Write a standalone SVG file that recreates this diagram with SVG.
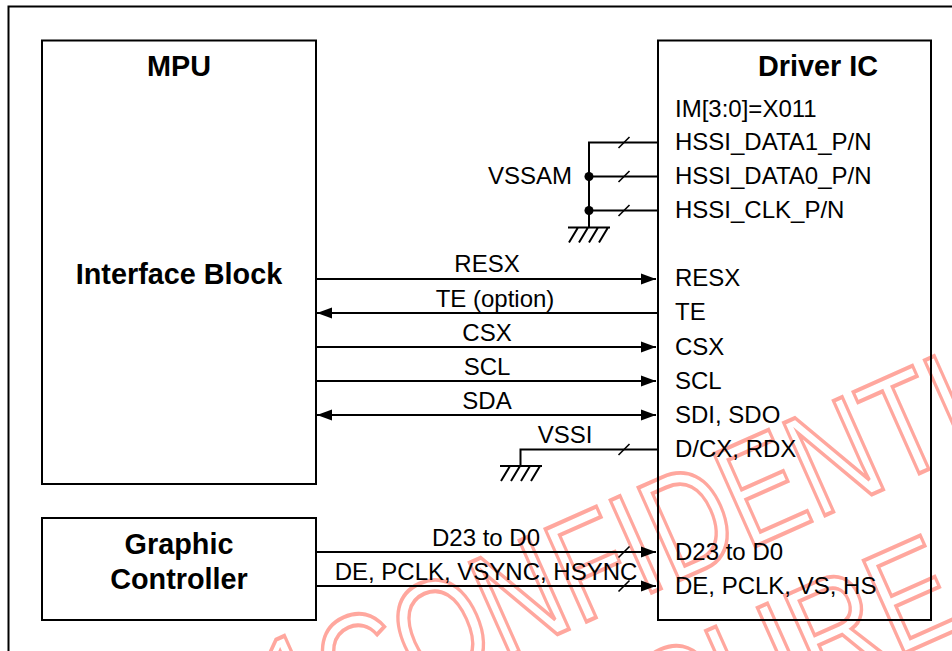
<svg xmlns="http://www.w3.org/2000/svg" width="952" height="651" viewBox="0 0 952 651">
<style>
text{font-family:"Liberation Sans",Arial,sans-serif;fill:#000}
.l{font-size:24px}
.m{font-size:24px;text-anchor:middle}
.b{font-size:28.8px;font-weight:bold;text-anchor:middle}
.box{fill:none;stroke:#000;stroke-width:2}
.w{stroke:#000;stroke-width:2;fill:none}
.t{stroke:#000;stroke-width:1.6;fill:none}
.wm{font-size:147px;fill:none;stroke:#ffa79e;stroke-width:3.6;vector-effect:non-scaling-stroke}
</style>
<defs>
<marker id="ah" markerUnits="userSpaceOnUse" markerWidth="16" markerHeight="12" refX="15" refY="6" orient="auto-start-reverse"><path d="M0 0.5L15 6L0 11.5z" fill="#000"/></marker>
<path id="gnd" d="M-21 0H21M-11 0L-20 15M-1 0L-10 15M9 0L0 15M19 0L10 15" fill="none" stroke="#000" stroke-width="2"/>
<path id="tick" d="M-5.500 5.500L5.500 -5.500" class="t"/>
</defs>
<rect width="952" height="651" fill="#fff"/>
<g id="watermark">
<text class="wm" transform="translate(290 744) rotate(-24) scale(.78 1)">1</text>
<text class="wm" transform="translate(345 729) rotate(-24) scale(.78 1)">CONFIDENTIAL</text>
<text class="wm" transform="translate(660 762) rotate(-24) scale(.81 1)">CURE</text>
</g>
<path id="frame" d="M8.500 651V6.500H952" fill="none" stroke="#000" stroke-width="2"/>
<g id="connectors">
<path class="w" d="M658 142.500H589V227M658 176.500H589M658 210.500H589"/>
<circle cx="589" cy="176.500" r="4.500"/><circle cx="589" cy="210.500" r="4.500"/>
<use href="#gnd" x="589" y="227.500"/>
<path class="w" d="M316 279H656" marker-end="url(#ah)"/>
<path class="w" d="M658 313H317" marker-end="url(#ah)"/>
<path class="w" d="M316 347H656" marker-end="url(#ah)"/>
<path class="w" d="M316 381H656" marker-end="url(#ah)"/>
<path class="w" d="M317 415H656" marker-start="url(#ah)" marker-end="url(#ah)"/>
<path class="w" d="M658 449.500H520.500V466"/>
<use href="#gnd" x="521" y="466"/>
<path class="w" d="M316 552H656" marker-end="url(#ah)"/>
<path class="w" d="M316 586H656" marker-end="url(#ah)"/>
<use href="#tick" x="624" y="142.500"/><use href="#tick" x="624" y="176.500"/><use href="#tick" x="624" y="210.500"/>
<use href="#tick" x="624" y="449.500"/><use href="#tick" x="624" y="552"/><use href="#tick" x="624" y="586"/>
<text class="l" x="488" y="184">VSSAM</text>
<text class="m" x="487" y="272">RESX</text>
<text class="m" x="495" y="307">TE (option)</text>
<text class="m" x="487" y="341">CSX</text>
<text class="m" x="487" y="375">SCL</text>
<text class="m" x="487" y="409">SDA</text>
<text class="m" x="565" y="443">VSSI</text>
<text class="m" x="486" y="546">D23 to D0</text>
<text class="m" x="486" y="580">DE, PCLK, VSYNC, HSYNC</text>
</g>
<g id="mpu"><rect class="box" x="42" y="40.500" width="274" height="443.500"/>
<text class="b" x="179" y="76">MPU</text>
<text class="b" x="179" y="284">Interface Block</text></g>
<g id="graphic-controller"><rect class="box" x="42" y="518" width="274" height="102"/>
<text class="b" x="179" y="554">Graphic</text>
<text class="b" x="179" y="589">Controller</text></g>
<g id="driver-ic"><rect class="box" x="658" y="40.500" width="273" height="579.500"/>
<text class="b" x="818" y="76">Driver IC</text>
<text class="l" x="675" y="117">IM[3:0]=X011</text>
<text class="l" x="675" y="150">HSSI_DATA1_P/N</text>
<text class="l" x="675" y="184">HSSI_DATA0_P/N</text>
<text class="l" x="675" y="218">HSSI_CLK_P/N</text>
<text class="l" x="675" y="286">RESX</text>
<text class="l" x="675" y="320">TE</text>
<text class="l" x="675" y="355">CSX</text>
<text class="l" x="675" y="389">SCL</text>
<text class="l" x="675" y="423">SDI, SDO</text>
<text class="l" x="675" y="457">D/CX, RDX</text>
<text class="l" x="675" y="560">D23 to D0</text>
<text class="l" x="675" y="594">DE, PCLK, VS, HS</text>
</g>
</svg>
